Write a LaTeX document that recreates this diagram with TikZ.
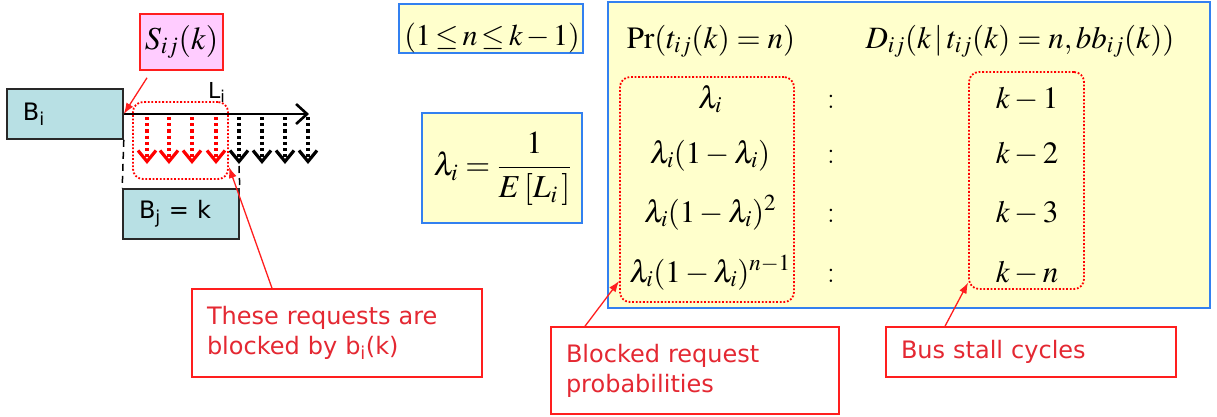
\documentclass[tikz,border=0pt]{standalone}
\usepackage{mathptmx}
\usepackage[no-math]{fontspec}
\setsansfont{DejaVu Sans}
\usetikzlibrary{arrows.meta}

\definecolor{busfill}{RGB}{184,224,228}
\definecolor{busedge}{RGB}{40,40,40}
\definecolor{pinkfill}{RGB}{255,204,255}
\definecolor{notefill}{RGB}{255,255,204}
\definecolor{noteblue}{RGB}{51,128,240}
\definecolor{callred}{RGB}{255,30,30}
\definecolor{calltext}{RGB}{228,40,50}

\tikzset{
  sfbig/.style={font=\sffamily\fontsize{24}{30}\selectfont},
  mth/.style={font=\fontsize{31}{36}\selectfont, inner sep=0pt},
  busbox/.style={draw=busedge, line width=1.6pt, fill=busfill, sfbig,
    align=left, inner xsep=16pt, inner ysep=0pt},
  formbox/.style={draw=noteblue, line width=1.8pt, fill=notefill, inner sep=0pt},
  callout/.style={draw=callred, line width=1.6pt, fill=white, text=calltext,
    sfbig, align=left, inner xsep=15pt, inner ysep=0pt},
  grp/.style={draw=red, line width=1.8pt, dash pattern=on 1.8pt off 1.8pt,
    rounded corners=10pt, inner sep=0pt},
  pointer/.style={draw=callred, line width=1.3pt, -{Latex[length=11pt,width=8pt]}},
  req/.style={line width=3.2pt, dash pattern=on 3.2pt off 3pt,
    -{Straight Barb[length=11pt,width=18pt]}},
  guide/.style={line width=1.5pt, dash pattern=on 7pt off 5pt},
}

\begin{document}
\begin{tikzpicture}[x=1pt,y=-1pt]
\useasboundingbox (0,0) rectangle (1217,416);

% ---- bus timeline on the left ----
\node[busbox, text width=84pt, minimum height=50pt] (Bi) at (65,114) {B\textsubscript{i}};
\node[busbox, text width=84pt, minimum height=50pt] (Bj) at (181,214) {B\textsubscript{j} = k};
\node[draw=callred, line width=1.6pt, fill=pinkfill, minimum width=83pt,
      minimum height=56pt, inner sep=0pt, font=\fontsize{32}{36}\selectfont]
      (S) at (181.5,42) {$S_{ij}(k)$};

\coordinate (axend) at (309,114);
\draw[line width=2.6pt, -{Straight Barb[length=11pt,width=20pt]}] (Bi.east) -- (axend);
\node[font=\sffamily\fontsize{22}{26}\selectfont, anchor=base west, inner sep=0pt]
      (Li) at (208,98) {L\textsubscript{i}};

\foreach \x in {147,169,192,216}
  \draw[req, red] (\x,117) -- (\x,164);
\foreach \x in {239,262,285,308}
  \draw[req, black] (\x,117) -- (\x,164);

\draw[guide] (Bi.south east) -- (Bj.north west);
\coordinate (lastreq) at (239,166);
\draw[guide] (lastreq) -- (Bj.north east);

\node[grp, minimum width=95pt, minimum height=77pt] (grpB) at (180.5,140.5) {};

\draw[pointer] ([xshift=-34.5pt,yshift=-7pt]S.south) -- (Bi.east);

\node[callout, text width=260pt, minimum height=88pt] (note1) at (337,333)
  {These requests are\\blocked by b\textsubscript{i}(k)};
\coordinate (tipB) at (229,167);
\draw[pointer] ([xshift=-65pt]note1.north) -- (tipB);

% ---- formula boxes ----
\node[formbox, minimum width=184pt, minimum height=49pt] (range) at (491,28.5) {};
\node[mth, anchor=base, font=\fontsize{30}{34}\selectfont] (rangetxt) at (492,45)
  {$\thickmuskip=2.5mu \medmuskip=2mu (1 \le n \le k-1)$};

\node[formbox, minimum width=160pt, minimum height=110pt] (lam) at (502,168) {};
\node[mth, font=\fontsize{32}{36}\selectfont] (lamtxt) at (502.5,169)
  {$\displaystyle \lambda_i = \frac{1}{E\,[L_i\,]}$};

\node[formbox, minimum width=602pt, minimum height=306pt] (tbl) at (909,155) {};

\node[mth, anchor=base] (hpr) at (711,48) {$\mathrm{Pr}(t_{ij}(k) = n)$};
\node[mth, anchor=base] (hd) at (1020,48) {$D_{ij}(k \,|\, t_{ij}(k) = n, bb_{ij}(k))$};

\node[mth, anchor=base] (p1) at (710,108) {$\lambda_i$};
\node[mth, anchor=base] (p2) at (710,163) {$\lambda_i(1-\lambda_i)$};
\node[mth, anchor=base] (p3) at (710,222) {$\lambda_i(1-\lambda_i)^2$};
\node[mth, anchor=base] (p4) at (710,282) {$\lambda_i(1-\lambda_i)^{n-1}$};

\node[mth, anchor=base] (c1) at (831,108) {:};
\node[mth, anchor=base] (c2) at (831,163) {:};
\node[mth, anchor=base] (c3) at (831,222) {:};
\node[mth, anchor=base] (c4) at (831,282) {:};

\node[mth, anchor=base] (d1) at (1027,108) {$k-1$};
\node[mth, anchor=base] (d2) at (1027,163) {$k-2$};
\node[mth, anchor=base] (d3) at (1027,222) {$k-3$};
\node[mth, anchor=base] (d4) at (1027,282) {$k-n$};

\node[grp, minimum width=174pt, minimum height=225pt] (grpP) at (707,189.5) {};
\node[grp, minimum width=115pt, minimum height=217pt] (grpD) at (1026.5,180.5) {};

% ---- callouts under the table ----
\node[callout, text width=258pt, minimum height=87pt] (note2) at (695,370.5)
  {Blocked request\\probabilities};
\node[callout, text width=260pt, minimum height=50pt] (note3) at (1031,352)
  {Bus stall cycles};

\draw[pointer] ([xshift=-110pt]note2.north) -- ([yshift=-91.5pt]grpP.west);
\draw[pointer] ([xshift=-86pt]note3.north) -- ([yshift=-102pt]grpD.west);
\end{tikzpicture}
\end{document}
